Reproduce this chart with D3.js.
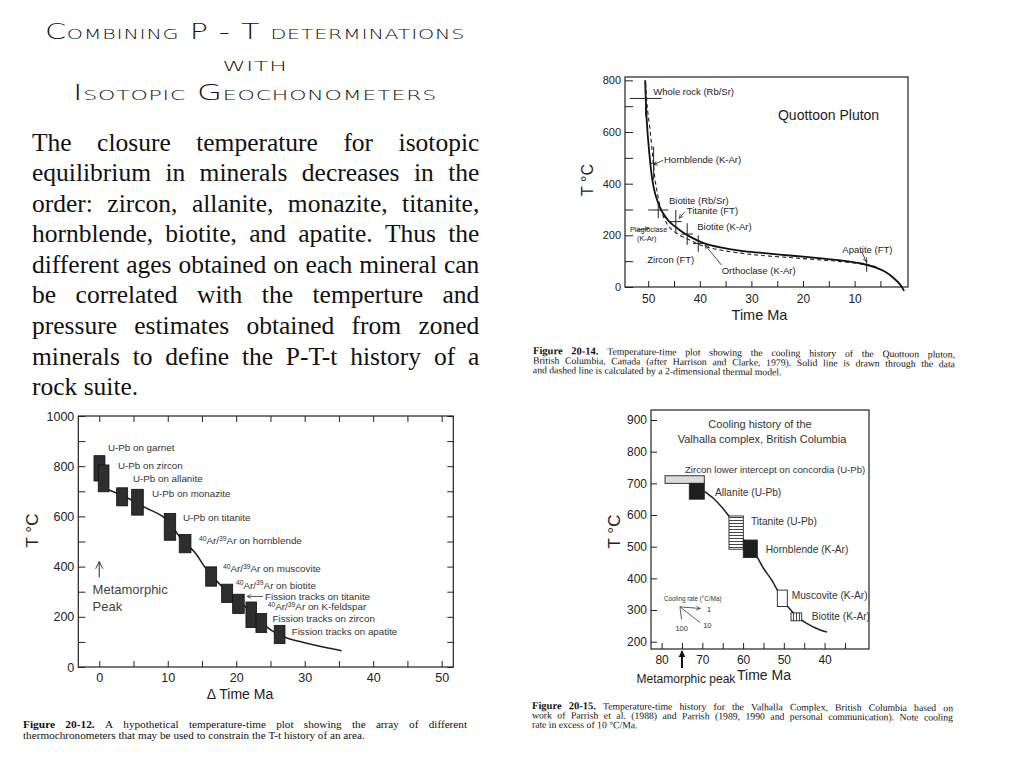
<!DOCTYPE html>
<html>
<head>
<meta charset="utf-8">
<script src="https://cdn.jsdelivr.net/npm/d3@7"></script>
<style>
  html, body { margin: 0; padding: 0; background: #fff; }
  svg { display: block; }
</style>
</head>
<body>
<svg id="slide" width="1024" height="768"></svg>
<script>
// Fonts
const serif = "'Liberation Serif', 'Times New Roman', serif";
const sans = "'Liberation Sans', Arial, Helvetica, sans-serif";
const ink = "#222";

// ---- Slide text ----
const titleLines = ["Combining P - T determinations", "with", "Isotopic Geochonometers"];
const bodyLines = [
  "The closure temperature for isotopic",
  "equilibrium in minerals decreases in the",
  "order: zircon, allanite, monazite, titanite,",
  "hornblende, biotite, and apatite.  Thus the",
  "different ages obtained on each mineral can",
  "be correlated with the temperture and",
  "pressure estimates obtained from zoned",
  "minerals to define the P-T-t history of a",
  "rock suite."
];
const caption14 = [
  "Figure 20-14. Temperature-time plot showing the cooling history of the Quottoon pluton,",
  "British Columbia, Canada (after Harrison and Clarke, 1979).  Solid line is drawn through the data",
  "and dashed line is calculated by a 2-dimensional thermal model."
];
const caption15 = [
  "Figure 20-15. Temperature-time history for the Valhalla Complex, British Columbia based on",
  "work of Parrish et al. (1988) and Parrish (1989, 1990 and personal communication).  Note cooling",
  "rate in excess of 10 °C/Ma."
];
const caption12 = [
  "Figure 20-12. A hypothetical temperature-time plot showing the array of different",
  "thermochronometers that may be used to constrain the T-t history of an area."
];

// ---- Fig 20-14: Quottoon pluton (age Ma, T °C) ----
const qYTicks = [0, 100, 200, 300, 400, 500, 600, 700, 800];
const qYLabels = [0, 200, 400, 600, 800];
const qXTicks = [50, 45, 40, 35, 30, 25, 20, 15, 10, 5];
const qXLabels = [50, 40, 30, 20, 10];
const qSolid = [[50.6,800],[50.3,650],[49.8,520],[49.2,415],[48.5,350],[47.5,298],[46,255],[44,222],[42,196],
  [39.5,172],[36,153],[32,140],[28,132],[22,121],[16,110],[12,101],[8.5,90],[6,76],[4,58],[2.5,36],[1.2,10],[0.4,-15]];
const qDashed = [[50.5,790],[50.2,700],[49.6,600],[49.1,500],[48.7,420],[48.2,360],[47.6,305],[46.9,265],[46,235],
  [44.5,208],[42,182],[39.5,160],[36,143],[32,131],[28,122],[22,113],[16,104],[12,97],[9,90],[7,84],[5.5,76]];
// [age, T, age error, T error]
const qCrosses = [[50.5,730,3.1,70],[48.95,479,0.65,64],[48.05,298,1.95,32],[44.65,253,1.1,45],
  [42.45,205,1.1,42],[40.3,168,1.0,32],[7.66,82,0,23]];
const qLabelText = ["Whole rock (Rb/Sr)", "Hornblende (K-Ar)", "Biotite (Rb/Sr)", "Titanite (FT)",
  "Biotite (K-Ar)", "Zircon (FT)", "Orthoclase (K-Ar)", "Apatite (FT)"];
const qLabelAt = [[49.02,743],[46.94,480],[45.97,323],[42.54,281],[40.49,221],[50.18,91],[35.76,52],[12.38,130]];
const qPointers = [[[47.1,491],[49.0,472]],[[42.9,291],[44.0,266]],[[35.8,85],[39.0,163]],[[8.6,137],[7.75,98]],[[52.3,219],[49.8,228]]];

// ---- Fig 20-12: hypothetical T-t plot ----
const pYTicks = d3.range(0, 1001, 100);
const pYLabels = [0, 200, 400, 600, 800, 1000];
const pXTicks = d3.range(0, 51, 5);
const pXLabels = [0, 10, 20, 30, 40, 50];
const pMinerals = ["U-Pb on garnet", "U-Pb on zircon", "U-Pb on allanite", "U-Pb on monazite", "U-Pb on titanite",
  "40Ar/39Ar on hornblende", "40Ar/39Ar on muscovite", "40Ar/39Ar on biotite", "Fission tracks on titanite",
  "40Ar/39Ar on K-feldspar", "Fission tracks on zircon", "Fission tracks on apatite"];
// [age min, age max, T min, T max]
const pBoxes = [[-0.77,0.83,741,842],[-0.15,1.42,698,805],[2.54,4.15,642,714],[4.73,6.43,605,708],
  [9.49,11.16,505,612],[11.68,13.39,455,528],[15.54,17.14,322,399],[17.87,19.48,257,330],
  [19.48,21.17,213,290],[21.42,22.98,157,259],[22.88,24.45,137,213],[25.55,27.12,93,166]];
const pLabelAt = [[1.27,859],[2.73,789],[4.92,739],[7.7,677],[12.22,582],[14.56,490],[18.06,378],[19.96,311],
  [24.2,267],[24.6,227],[25.3,179],[28.1,127]];
const pCurve = [[1.4,705],[2.6,692],[4.5,668],[6.5,638],[9.6,593],[12,510],[14,455],[15.5,395],[17.4,335],
  [19.4,286],[21.3,240],[23.2,190],[25.2,145],[27.5,115],[30,97],[32.7,80],[35.4,65]];

// ---- Fig 20-15: Valhalla complex ----
const vYTicks = [200, 300, 400, 500, 600, 700, 800, 900];
const vXTicks = [80, 75, 70, 65, 60, 55, 50, 45, 40, 35];
const vXLabels = [80, 70, 60, 50, 40];
const vMinerals = ["Zircon lower intercept on concordia (U-Pb)", "Allanite (U-Pb)", "Titanite (U-Pb)",
  "Hornblende (K-Ar)", "Muscovite (K-Ar)", "Biotite (K-Ar)"];
const vBoxes = [[69.52,79.16,700,724],[69.52,73.2,650,700],[59.95,63.46,492,597],[56.51,59.95,466,521],
  [49.15,51.6,311,363],[45.62,48.24,266,291]];
const vFills = ["#dcdcdc", "#1e1e1e", "url(#hLines)", "#1e1e1e", "#fff", "url(#vLines)"];
const vLabelAt = [[74.26,734],[66.89,661],[58.06,568],[54.45,481],[48.07,336],[43.16,270]];
const vCurve = [[69.5,675],[67.3,653],[65.3,626],[63.5,597],[61.5,560],[59.9,522],[58,490],[56.5,466],[55,432],
  [53,395],[51.6,363],[50.3,335],[49.1,312],[46.8,280],[44.4,258],[41.1,237],[39.4,231]];
const coolRates = [1, 10, 100];
const coolSpan = [5, 5, 0.4];
const coolOrigin = [75.5, 310];
const peakAge = 75;

const svg = d3.select("#slide");
const defs = svg.append("defs");
defs.append("marker").attr("id", "arrowOpen").attr("viewBox", "0 0 10 10")
  .attr("refX", 9).attr("refY", 5).attr("markerWidth", 5).attr("markerHeight", 5)
  .attr("markerUnits", "userSpaceOnUse").attr("orient", "auto")
  .append("path").attr("d", "M1,1 L9,5 L1,9").attr("fill", "none").attr("stroke", ink).attr("stroke-width", 1.3);
defs.append("marker").attr("id", "arrowBig").attr("viewBox", "0 0 10 10")
  .attr("refX", 9).attr("refY", 5).attr("markerWidth", 9).attr("markerHeight", 9)
  .attr("markerUnits", "userSpaceOnUse").attr("orient", "auto")
  .append("path").attr("d", "M1,1 L9,5 L1,9").attr("fill", "none").attr("stroke", "#333").attr("stroke-width", 1.1);
defs.append("marker").attr("id", "arrowFill").attr("viewBox", "0 0 10 10")
  .attr("refX", 9).attr("refY", 5).attr("markerWidth", 7).attr("markerHeight", 7)
  .attr("markerUnits", "userSpaceOnUse").attr("orient", "auto")
  .append("path").attr("d", "M0,0 L10,5 L0,10 Z").attr("fill", "#111");
const hp = defs.append("pattern").attr("id", "hLines").attr("width", 4).attr("height", 3).attr("patternUnits", "userSpaceOnUse");
hp.append("rect").attr("width", 4).attr("height", 3).attr("fill", "#fff");
hp.append("line").attr("x1", 0).attr("x2", 4).attr("y1", 1.5).attr("y2", 1.5).attr("stroke", "#333").attr("stroke-width", 0.9);
const vp = defs.append("pattern").attr("id", "vLines").attr("width", 3).attr("height", 4).attr("patternUnits", "userSpaceOnUse");
vp.append("rect").attr("width", 3).attr("height", 4).attr("fill", "#fff");
vp.append("line").attr("y1", 0).attr("y2", 4).attr("x1", 1.5).attr("x2", 1.5).attr("stroke", "#333").attr("stroke-width", 0.9);

// ---- Title ----
const titleWidths = [420, 65, 364];
const titleBase = [38.5, 71, 100];
svg.selectAll(".title").data(titleLines).join("text")
  .attr("class", "title")
  .attr("x", 255).attr("y", (d, i) => titleBase[i])
  .attr("text-anchor", "middle")
  .attr("font-family", "'DejaVu Sans', sans-serif").attr("font-weight", 200)
  .attr("font-size", 20.5).style("font-variant", "small-caps").style("letter-spacing", "0.5px")
  .attr("textLength", (d, i) => titleWidths[i]).attr("lengthAdjust", "spacingAndGlyphs")
  .attr("fill", "#111")
  .text(d => d);

// Justified text, word by word
function justify(g, lines, o) {
  lines.forEach((line, i) => {
    const words = line.split(/\s+/);
    const y = o.y + i * o.lh;
    const nodes = words.map((w, j) => {
      const isBold = i === 0 && j < (o.bold || 0);
      return g.append("text")
        .attr("y", y)
        .attr("font-family", serif)
        .attr("font-size", isBold ? o.boldSize : o.size)
        .attr("font-weight", isBold ? "bold" : null)
        .attr("fill", "#111")
        .text(w);
    });
    const widths = nodes.map(n => n.node().getComputedTextLength());
    const last = i === lines.length - 1;
    const gap = last ? o.size * 0.25 : (o.width - d3.sum(widths)) / (words.length - 1);
    let x = o.x;
    nodes.forEach((n, j) => { n.attr("x", x); x += widths[j] + gap; });
  });
}

justify(svg.append("g"), bodyLines, {x: 32, width: 447.3, y: 150.7, lh: 30.55, size: 25.5});
justify(svg.append("g").attr("transform", "rotate(0.5 533 354)"), caption14,
  {x: 533, width: 422, y: 354, lh: 9.6, size: 9.7, bold: 2, boldSize: 10.5});
justify(svg.append("g").attr("transform", "rotate(0.3 532 709)"), caption15,
  {x: 532, width: 421, y: 709, lh: 9.4, size: 9.7, bold: 2, boldSize: 10.5});
justify(svg.append("g"), caption12,
  {x: 23, width: 444, y: 727.5, lh: 11.8, size: 11.2, bold: 2, boldSize: 11.4});

function styleAxis(a, size) {
  a.attr("font-family", sans).attr("font-size", size);
  a.select(".domain").remove();
  a.selectAll(".tick line").attr("stroke", ink).attr("stroke-width", 1);
  a.selectAll(".tick text").attr("fill", ink);
}

// ================= Fig 20-14 =================
const q = {left: 625, right: 908, top: 77, bottom: 287};
const x1 = d3.scaleLinear().domain([54.5, -0.35]).range([q.left, q.right]);
const y1 = d3.scaleLinear().domain([0, 813]).range([q.bottom, q.top]);
const g1 = svg.append("g");

g1.append("g").attr("transform", `translate(${q.left},0)`)
  .call(d3.axisLeft(y1).tickValues(qYTicks).tickSize(-8).tickPadding(4)
    .tickFormat(d => qYLabels.includes(d) ? d : ""))
  .call(a => styleAxis(a, 11));
g1.append("g").attr("transform", `translate(0,${q.bottom})`)
  .call(d3.axisBottom(x1).tickValues(qXTicks).tickSize(-6).tickPadding(7)
    .tickFormat(d => qXLabels.includes(d) ? d : ""))
  .call(a => styleAxis(a, 12));
g1.append("rect").attr("x", q.left).attr("y", q.top)
  .attr("width", q.right - q.left).attr("height", q.bottom - q.top)
  .attr("fill", "none").attr("stroke", ink).attr("stroke-width", 1.2);

const line1 = d3.line().x(d => x1(d[0])).y(d => y1(d[1])).curve(d3.curveCatmullRom);
g1.append("path").attr("d", line1(qDashed)).attr("fill", "none")
  .attr("stroke", ink).attr("stroke-width", 1.1).attr("stroke-dasharray", "4,3");
g1.append("path").attr("d", line1(qSolid)).attr("fill", "none")
  .attr("stroke", "#111").attr("stroke-width", 1.8);

qCrosses.forEach(c => {
  g1.append("line").attr("x1", x1(c[0] + c[2])).attr("x2", x1(c[0] - c[2]))
    .attr("y1", y1(c[1])).attr("y2", y1(c[1])).attr("stroke", ink).attr("stroke-width", 1);
  g1.append("line").attr("x1", x1(c[0])).attr("x2", x1(c[0]))
    .attr("y1", y1(c[1] - c[3])).attr("y2", y1(c[1] + c[3])).attr("stroke", ink).attr("stroke-width", 1);
});
qPointers.forEach(p => {
  g1.append("line").attr("x1", x1(p[0][0])).attr("y1", y1(p[0][1]))
    .attr("x2", x1(p[1][0])).attr("y2", y1(p[1][1]))
    .attr("stroke", ink).attr("stroke-width", 0.8).attr("marker-end", "url(#arrowOpen)");
});
g1.selectAll(".qlab").data(qLabelText).join("text")
  .attr("x", (d, i) => x1(qLabelAt[i][0])).attr("y", (d, i) => y1(qLabelAt[i][1]))
  .attr("font-family", sans).attr("font-size", 9.5).attr("fill", ink).text(d => d);
g1.append("text").attr("x", x1(53.53)).attr("y", y1(211))
  .attr("font-family", sans).attr("font-size", 7.3).attr("fill", ink).text("Plagioclase");
g1.append("text").attr("x", x1(52.17)).attr("y", y1(178))
  .attr("font-family", sans).attr("font-size", 7.3).attr("fill", ink).text("(K-Ar)");
g1.append("text").attr("x", x1(24.85)).attr("y", y1(646))
  .attr("font-family", sans).attr("font-size", 14).attr("fill", ink).text("Quottoon Pluton");
g1.append("text").attr("x", (q.left + q.right) / 2 - 7).attr("y", q.bottom + 33)
  .attr("text-anchor", "middle").attr("font-family", sans).attr("font-size", 14.5).attr("fill", ink).text("Time Ma");
g1.append("text").attr("transform", `translate(${q.left - 32},${(q.top + q.bottom) / 2 - 2}) rotate(-90)`)
  .attr("text-anchor", "middle").attr("font-family", sans).attr("font-size", 16).attr("fill", ink).text("T °C");

// ================= Fig 20-12 =================
const p = {left: 78.3, right: 453.3, top: 416, bottom: 667};
const x2 = d3.scaleLinear().domain([-3.06, 51.7]).range([p.left, p.right]);
const y2 = d3.scaleLinear().domain([0, 1000]).range([p.bottom, p.top]);
const g2 = svg.append("g");

g2.append("g").attr("transform", `translate(${p.left},0)`)
  .call(d3.axisLeft(y2).tickValues(pYTicks).tickSize(-7).tickPadding(4)
    .tickFormat(d => pYLabels.includes(d) ? d : ""))
  .call(a => styleAxis(a, 12.5));
g2.append("g").attr("transform", `translate(${p.right},0)`)
  .call(d3.axisRight(y2).tickValues(pYTicks).tickSize(-6).tickFormat(""))
  .call(a => styleAxis(a, 12));
g2.append("g").attr("transform", `translate(0,${p.bottom})`)
  .call(d3.axisBottom(x2).tickValues(pXTicks).tickSize(-6).tickPadding(6)
    .tickFormat(d => pXLabels.includes(d) ? d : ""))
  .call(a => styleAxis(a, 12.5));
g2.append("g").attr("transform", `translate(0,${p.top})`)
  .call(d3.axisTop(x2).tickValues(pXTicks).tickSize(-6).tickFormat(""))
  .call(a => styleAxis(a, 12));
g2.append("rect").attr("x", p.left).attr("y", p.top)
  .attr("width", p.right - p.left).attr("height", p.bottom - p.top)
  .attr("fill", "none").attr("stroke", ink).attr("stroke-width", 1.2);

const line2 = d3.line().x(d => x2(d[0])).y(d => y2(d[1])).curve(d3.curveCatmullRom);
g2.append("path").attr("d", line2(pCurve)).attr("fill", "none").attr("stroke", "#222").attr("stroke-width", 1.6);
g2.selectAll(".pbox").data(pBoxes).join("rect")
  .attr("x", d => x2(d[0])).attr("width", d => x2(d[1]) - x2(d[0]))
  .attr("y", d => y2(d[3])).attr("height", d => y2(d[2]) - y2(d[3]))
  .attr("fill", "#2e2e2e").attr("stroke", "#111").attr("stroke-width", 0.8);

g2.selectAll(".plab").data(pMinerals).join("text")
  .attr("x", (d, i) => x2(pLabelAt[i][0])).attr("y", (d, i) => y2(pLabelAt[i][1]))
  .attr("font-family", sans).attr("font-size", 9.8).attr("fill", "#333")
  .each(function(d) {
    const t = d3.select(this);
    if (d.startsWith("40Ar/39Ar")) {
      t.append("tspan").attr("font-size", 6.8).attr("dy", -3.5).text("40");
      t.append("tspan").attr("dy", 3.5).text("Ar/");
      t.append("tspan").attr("font-size", 6.8).attr("dy", -3.5).text("39");
      t.append("tspan").attr("dy", 3.5).text(d.replace("40Ar/39Ar", "Ar"));
    } else {
      t.text(d);
    }
  });
g2.append("line").attr("x1", x2(23.9)).attr("x2", x2(21.6)).attr("y1", y2(281)).attr("y2", y2(281))
  .attr("stroke", "#333").attr("stroke-width", 0.8).attr("marker-end", "url(#arrowOpen)");

g2.append("line").attr("x1", x2(0)).attr("x2", x2(0)).attr("y1", y2(358)).attr("y2", y2(420))
  .attr("stroke", "#444").attr("stroke-width", 1.2).attr("marker-end", "url(#arrowBig)");
g2.append("text").attr("x", x2(-0.97)).attr("y", y2(289))
  .attr("font-family", sans).attr("font-size", 13).attr("fill", "#444").text("Metamorphic");
g2.append("text").attr("x", x2(-0.97)).attr("y", y2(223))
  .attr("font-family", sans).attr("font-size", 13).attr("fill", "#444").text("Peak");
g2.append("text").attr("x", 240).attr("y", p.bottom + 32)
  .attr("text-anchor", "middle").attr("font-family", sans).attr("font-size", 14).attr("fill", ink).text("Δ Time  Ma");
g2.append("text").attr("transform", `translate(${p.left - 40},${(p.top + p.bottom) / 2 - 11}) rotate(-90)`)
  .attr("text-anchor", "middle").attr("font-family", sans).attr("font-size", 17).attr("fill", ink).text("T °C");

// ================= Fig 20-15 =================
const v = {left: 651, right: 869, top: 410, bottom: 649};
const x3 = d3.scaleLinear().domain([82.6, 29.1]).range([v.left, v.right]);
const y3 = d3.scaleLinear().domain([177, 931.6]).range([v.bottom, v.top]);
const g3 = svg.append("g");

g3.append("g").attr("transform", `translate(${v.left},0)`)
  .call(d3.axisLeft(y3).tickValues(vYTicks).tickSize(-6).tickPadding(4))
  .call(a => styleAxis(a, 12));
g3.append("g").attr("transform", `translate(0,${v.bottom})`)
  .call(d3.axisBottom(x3).tickValues(vXTicks).tickSize(-6).tickPadding(6)
    .tickFormat(d => vXLabels.includes(d) ? d : ""))
  .call(a => styleAxis(a, 12));
g3.append("rect").attr("x", v.left).attr("y", v.top)
  .attr("width", v.right - v.left).attr("height", v.bottom - v.top)
  .attr("fill", "none").attr("stroke", ink).attr("stroke-width", 1.2);

const line3 = d3.line().x(d => x3(d[0])).y(d => y3(d[1])).curve(d3.curveCatmullRom);
g3.append("path").attr("d", line3(vCurve)).attr("fill", "none").attr("stroke", "#222").attr("stroke-width", 1.5);
g3.selectAll(".vbox").data(vBoxes).join("rect")
  .attr("x", d => x3(d[1])).attr("width", d => x3(d[0]) - x3(d[1]))
  .attr("y", d => y3(d[3])).attr("height", d => y3(d[2]) - y3(d[3]))
  .attr("fill", (d, i) => vFills[i]).attr("stroke", "#222").attr("stroke-width", 0.9);
g3.selectAll(".vlab").data(vMinerals).join("text")
  .attr("x", (d, i) => x3(vLabelAt[i][0])).attr("y", (d, i) => y3(vLabelAt[i][1]))
  .attr("font-family", sans).attr("font-size", (d, i) => i === 0 ? 9.6 : 10.2).attr("fill", "#333").text(d => d);

g3.append("text").attr("x", x3(55.85)).attr("y", y3(874))
  .attr("text-anchor", "middle").attr("font-family", sans).attr("font-size", 11).attr("fill", "#333")
  .text("Cooling history of the");
g3.append("text").attr("x", x3(55.36)).attr("y", y3(827))
  .attr("text-anchor", "middle").attr("font-family", sans).attr("font-size", 11).attr("fill", "#333")
  .text("Valhalla complex, British Columbia");

// cooling-rate key
g3.append("text").attr("x", x3(79.4)).attr("y", y3(329))
  .attr("font-family", sans).attr("font-size", 6.3).attr("fill", "#333").text("Cooling rate (°C/Ma)");
coolRates.forEach((r, i) => {
  const end = [coolOrigin[0] - coolSpan[i], coolOrigin[1] - r * coolSpan[i]];
  g3.append("line").attr("x1", x3(coolOrigin[0])).attr("y1", y3(coolOrigin[1]))
    .attr("x2", x3(end[0])).attr("y2", y3(end[1]))
    .attr("stroke", "#333").attr("stroke-width", 0.8)
    .attr("marker-end", i === 0 ? "url(#arrowOpen)" : null);
});
const coolLabelAt = [[68.86, 293], [69.8, 243], [75.07, 235]];
coolRates.forEach((r, i) => {
  g3.append("text").attr("x", x3(coolLabelAt[i][0])).attr("y", y3(coolLabelAt[i][1]))
    .attr("text-anchor", i === 2 ? "middle" : "start")
    .attr("font-family", sans).attr("font-size", 7.5).attr("fill", "#333").text(r);
});

// metamorphic peak arrow under axis
g3.append("line").attr("x1", x3(peakAge)).attr("x2", x3(peakAge))
  .attr("y1", v.bottom + 19).attr("y2", v.bottom + 2)
  .attr("stroke", "#111").attr("stroke-width", 2).attr("marker-end", "url(#arrowFill)");
g3.append("text").attr("x", x3(peakAge) + 4).attr("y", v.bottom + 34)
  .attr("text-anchor", "middle").attr("font-family", sans).attr("font-size", 12).attr("fill", ink)
  .text("Metamorphic peak");
g3.append("text").attr("x", 737).attr("y", v.bottom + 31)
  .attr("font-family", sans).attr("font-size", 14).attr("fill", ink).text("Time  Ma");
g3.append("text").attr("transform", `translate(${v.left - 31},${(v.top + v.bottom) / 2 + 2}) rotate(-90)`)
  .attr("text-anchor", "middle").attr("font-family", sans).attr("font-size", 17).attr("fill", ink).text("T °C");
</script>
</body>
</html>
